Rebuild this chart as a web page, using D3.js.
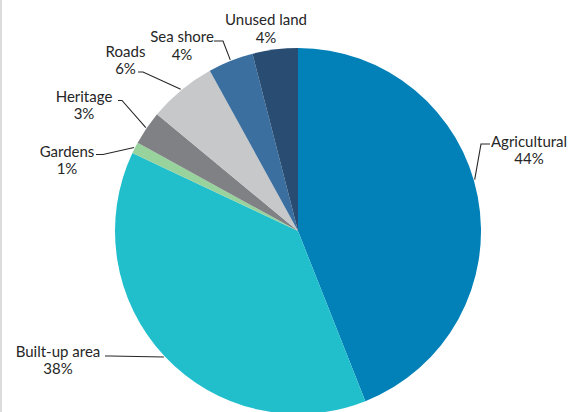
<!DOCTYPE html>
<html>
<head>
<meta charset="utf-8">
<script src="https://cdn.jsdelivr.net/npm/d3@7"></script>
<style>
  html, body { margin: 0; padding: 0; background: #fff; }
  svg { display: block; }
  text { font-family: Lato, "Open Sans", sans-serif; font-size: 15px; fill: #262626; }
</style>
</head>
<body>
<svg id="chart" width="579" height="412"></svg>
<script>
// ---- data ----
const categories = ["Agricultural", "Built-up area", "Gardens", "Heritage", "Roads", "Sea shore", "Unused land"];
const values = [44, 38, 1, 3, 6, 4, 4];
const valueLabels = ["44%", "38%", "1%", "3%", "6%", "4%", "4%"];
const colors = ["#0280b8", "#21bfcc", "#98d29c", "#7f8184", "#c7c8ca", "#3a6f9f", "#294d72"];

// ---- layout (label placement) ----
// x: text centre, y: baseline of first line, lead: [startX, elbowX, lineY] or null, ang: override anchor angle (deg)
const labelLayout = [
  { x: 529, y: 146.5, lead: [490, 481, 144], ang: 73.8 },
  { x: 58,  y: 356.5, lead: [105, 110, 356] },
  { x: 67,  y: 156.5, lead: [96, 103, 154.5] },
  { x: 84,  y: 101.5, lead: [118, 122, 100.5] },
  { x: 125.5, y: 56.5, lead: [138, 143, 72] },
  { x: 182, y: 42,   lead: [214, 223, 41] },
  { x: 266, y: 25,   lead: null }
];

const svg = d3.select("#chart");
const W = 579, H = 412;
const cx = 298, cy = 231, R = 183;

// left border
svg.append("rect").attr("x", 0).attr("y", 0).attr("width", 2).attr("height", H).attr("fill", "#dcdcdc");

const pie = d3.pie().value(d => d).sort(null);
const arcs = pie(values);
const arc = d3.arc().innerRadius(0).outerRadius(R);

const g = svg.append("g").attr("transform", `translate(${cx},${cy})`);
g.selectAll("path").data(arcs).join("path")
  .attr("d", arc)
  .attr("fill", (d, i) => colors[i]);

// labels
const lab = svg.append("g");
arcs.forEach((a, i) => {
  const L = labelLayout[i];
  const t = lab.append("text").attr("text-anchor", "middle");
  t.append("tspan").attr("x", L.x).attr("y", L.y).text(categories[i]);
  t.append("tspan").attr("x", L.x).attr("y", L.y + 17.5).text(valueLabels[i]);
  if (L.lead) {
    const angDeg = L.ang !== undefined ? L.ang : ((a.startAngle + a.endAngle) / 2) * 180 / Math.PI;
    const ang = angDeg * Math.PI / 180;
    const px = cx + (R + 1) * Math.sin(ang);
    const py = cy - (R + 1) * Math.cos(ang);
    const line = d3.line();
    lab.append("path")
      .attr("d", line([[L.lead[0], L.lead[2]], [L.lead[1], L.lead[2]], [px, py]]))
      .attr("fill", "none")
      .attr("stroke", "#262626")
      .attr("stroke-width", 1.1);
  }
});
</script>
</body>
</html>
